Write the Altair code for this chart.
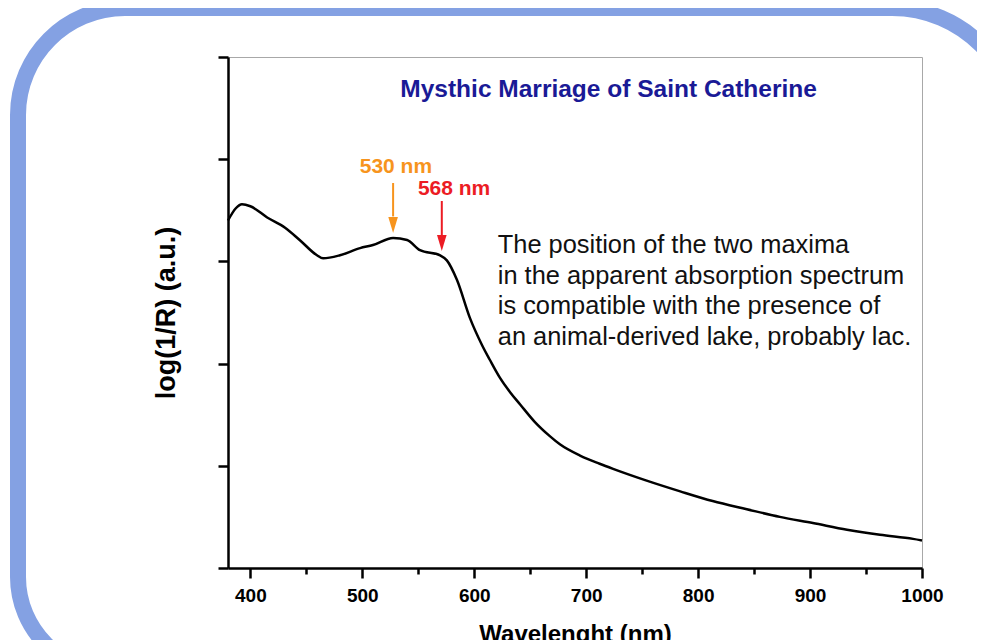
import altair as alt
import pandas as pd

# ---- spectrum ----
wavelength = [380, 387, 392.5, 400, 415, 431, 444, 459.5, 465, 480, 498, 509.5,
              527.5, 540, 551.5, 569.5, 575.5, 584.5, 596, 607, 614, 623, 632,
              641, 654, 667.5, 676.5, 694.5, 712, 724, 754, 784, 813, 843.5,
              873, 902.5, 933, 962.5, 992, 1000]
absorbance = [3.40, 3.52, 3.56, 3.54, 3.43, 3.33, 3.21, 3.06, 3.03, 3.06, 3.13,
              3.16, 3.23, 3.21, 3.11, 3.06, 3.01, 2.82, 2.45, 2.18, 2.035, 1.86,
              1.72, 1.60, 1.43, 1.29, 1.21, 1.10, 1.02, 0.97, 0.855, 0.75, 0.655,
              0.575, 0.50, 0.44, 0.375, 0.325, 0.285, 0.27]

x_ticks = [400, 450, 500, 550, 600, 650, 700, 750, 800, 850, 900, 950, 1000]
y_ticks = [0, 1, 2, 3, 4, 5]

title_text = "Mysthic Marriage of Saint Catherine"
peak_labels = ["530 nm", "568 nm"]
peak_pos = [530, 582]
peak_label_y = [3.865, 3.65]
peak_colors = ["#f7941d", "#ec1c24"]
arrow_x = [527.5, 571]
arrow_top = [3.767, 3.591]
arrow_base = [3.44, 3.25]
arrow_head = [3.356, 3.18]

note_lines = ["The position of the two maxima",
              "in the apparent absorption spectrum",
              "is compatible with the presence of",
              "an animal-derived lake, probably lac."]
note_y = [3.082, 2.779, 2.485, 2.182]
note_x = 621

FONT = "Liberation Sans"

spec = pd.DataFrame({"wl": wavelength, "a": absorbance})
peaks = pd.DataFrame({"label": peak_labels, "pos": peak_pos, "ly": peak_label_y,
                      "color": peak_colors, "ax": arrow_x, "top": arrow_top,
                      "base": arrow_base, "head": arrow_head})
notes = pd.DataFrame({"t": note_lines, "y": note_y, "x": [note_x] * 4})
title_df = pd.DataFrame({"t": [title_text], "x": [720], "y": [4.609]})

xs = alt.Scale(domain=[380, 1000], nice=False, zero=False)
ys = alt.Scale(domain=[0, 5], nice=False, zero=False)

x_axis = alt.Axis(
    values=x_ticks, format="d", labelFlush=False,
    labelExpr="datum.value % 100 === 0 ? datum.label : ''",
    tickSize={"condition": {"test": "datum.value % 100 === 0", "value": 10}, "value": 6},
    title="Wavelenght (nm)", grid=False,
    domainColor="black", domainWidth=2.5, tickColor="black", tickWidth=2.5,
    labelFont=FONT, labelFontSize=19, labelFontWeight="bold", labelColor="black",
    labelPadding=8, titleFont=FONT, titleFontSize=24, titleFontWeight="bold",
    titleColor="black", titlePadding=17,
)
y_axis = alt.Axis(
    values=y_ticks, labels=False, tickSize=10, grid=False,
    title="log(1/R) (a.u.)",
    domainColor="black", domainWidth=2.5, tickColor="black", tickWidth=2.5,
    titleFont=FONT, titleFontSize=27, titleFontWeight="bold", titleColor="black",
    titlePadding=36,
)

line = alt.Chart(spec).mark_line(color="black", strokeWidth=2.5, interpolate="monotone").encode(
    x=alt.X("wl:Q", scale=xs, axis=x_axis),
    y=alt.Y("a:Q", scale=ys, axis=y_axis),
)

shafts = alt.Chart(peaks).mark_rule(strokeWidth=2).encode(
    x=alt.X("ax:Q", scale=xs),
    y=alt.Y("top:Q", scale=ys),
    y2="base:Q",
    color=alt.Color("color:N", scale=None),
)
heads = alt.Chart(peaks).mark_point(shape="M-0.6,-1L0.6,-1L0,1Z", filled=True,
                                     size=256, opacity=1).encode(
    x=alt.X("ax:Q", scale=xs),
    y=alt.Y("head:Q", scale=ys),
    color=alt.Color("color:N", scale=None),
)
peak_text = alt.Chart(peaks).mark_text(font=FONT, fontSize=21, fontWeight="bold",
                                        align="center", baseline="alphabetic").encode(
    x=alt.X("pos:Q", scale=xs),
    y=alt.Y("ly:Q", scale=ys),
    text="label:N",
    color=alt.Color("color:N", scale=None),
)
note_text = alt.Chart(notes).mark_text(font=FONT, fontSize=25.4, align="left",
                                        baseline="alphabetic", color="#111111").encode(
    x=alt.X("x:Q", scale=xs),
    y=alt.Y("y:Q", scale=ys),
    text="t:N",
)
title_mark = alt.Chart(title_df).mark_text(font=FONT, fontSize=24.5, fontWeight="bold",
                                            align="center", baseline="alphabetic",
                                            color="#1a1a96").encode(
    x=alt.X("x:Q", scale=xs),
    y=alt.Y("y:Q", scale=ys),
    text="t:N",
)

frame = alt.Chart(alt.Data(values=[{}])).mark_rect(
    filled=False, stroke="#84a1e3", strokeWidth=16,
    cornerRadiusTopLeft=107, cornerRadiusTopRight=126,
    cornerRadiusBottomLeft=95, cornerRadiusBottomRight=95,
).encode(
    x=alt.value(-210), x2=alt.value(790), y=alt.value(-49), y2=alt.value(615),
)

chart = alt.layer(frame, line, shafts, heads, peak_text, note_text, title_mark).properties(
    width=694, height=511,
    autosize=alt.AutoSizeParams(type="none"),
    padding={"left": 220, "top": 49, "right": 55, "bottom": 72},
    background="white",
).configure_view(stroke="#a8a8a8", strokeWidth=1)

chart.save("out.html", embed_options={"renderer": "svg", "actions": False})
